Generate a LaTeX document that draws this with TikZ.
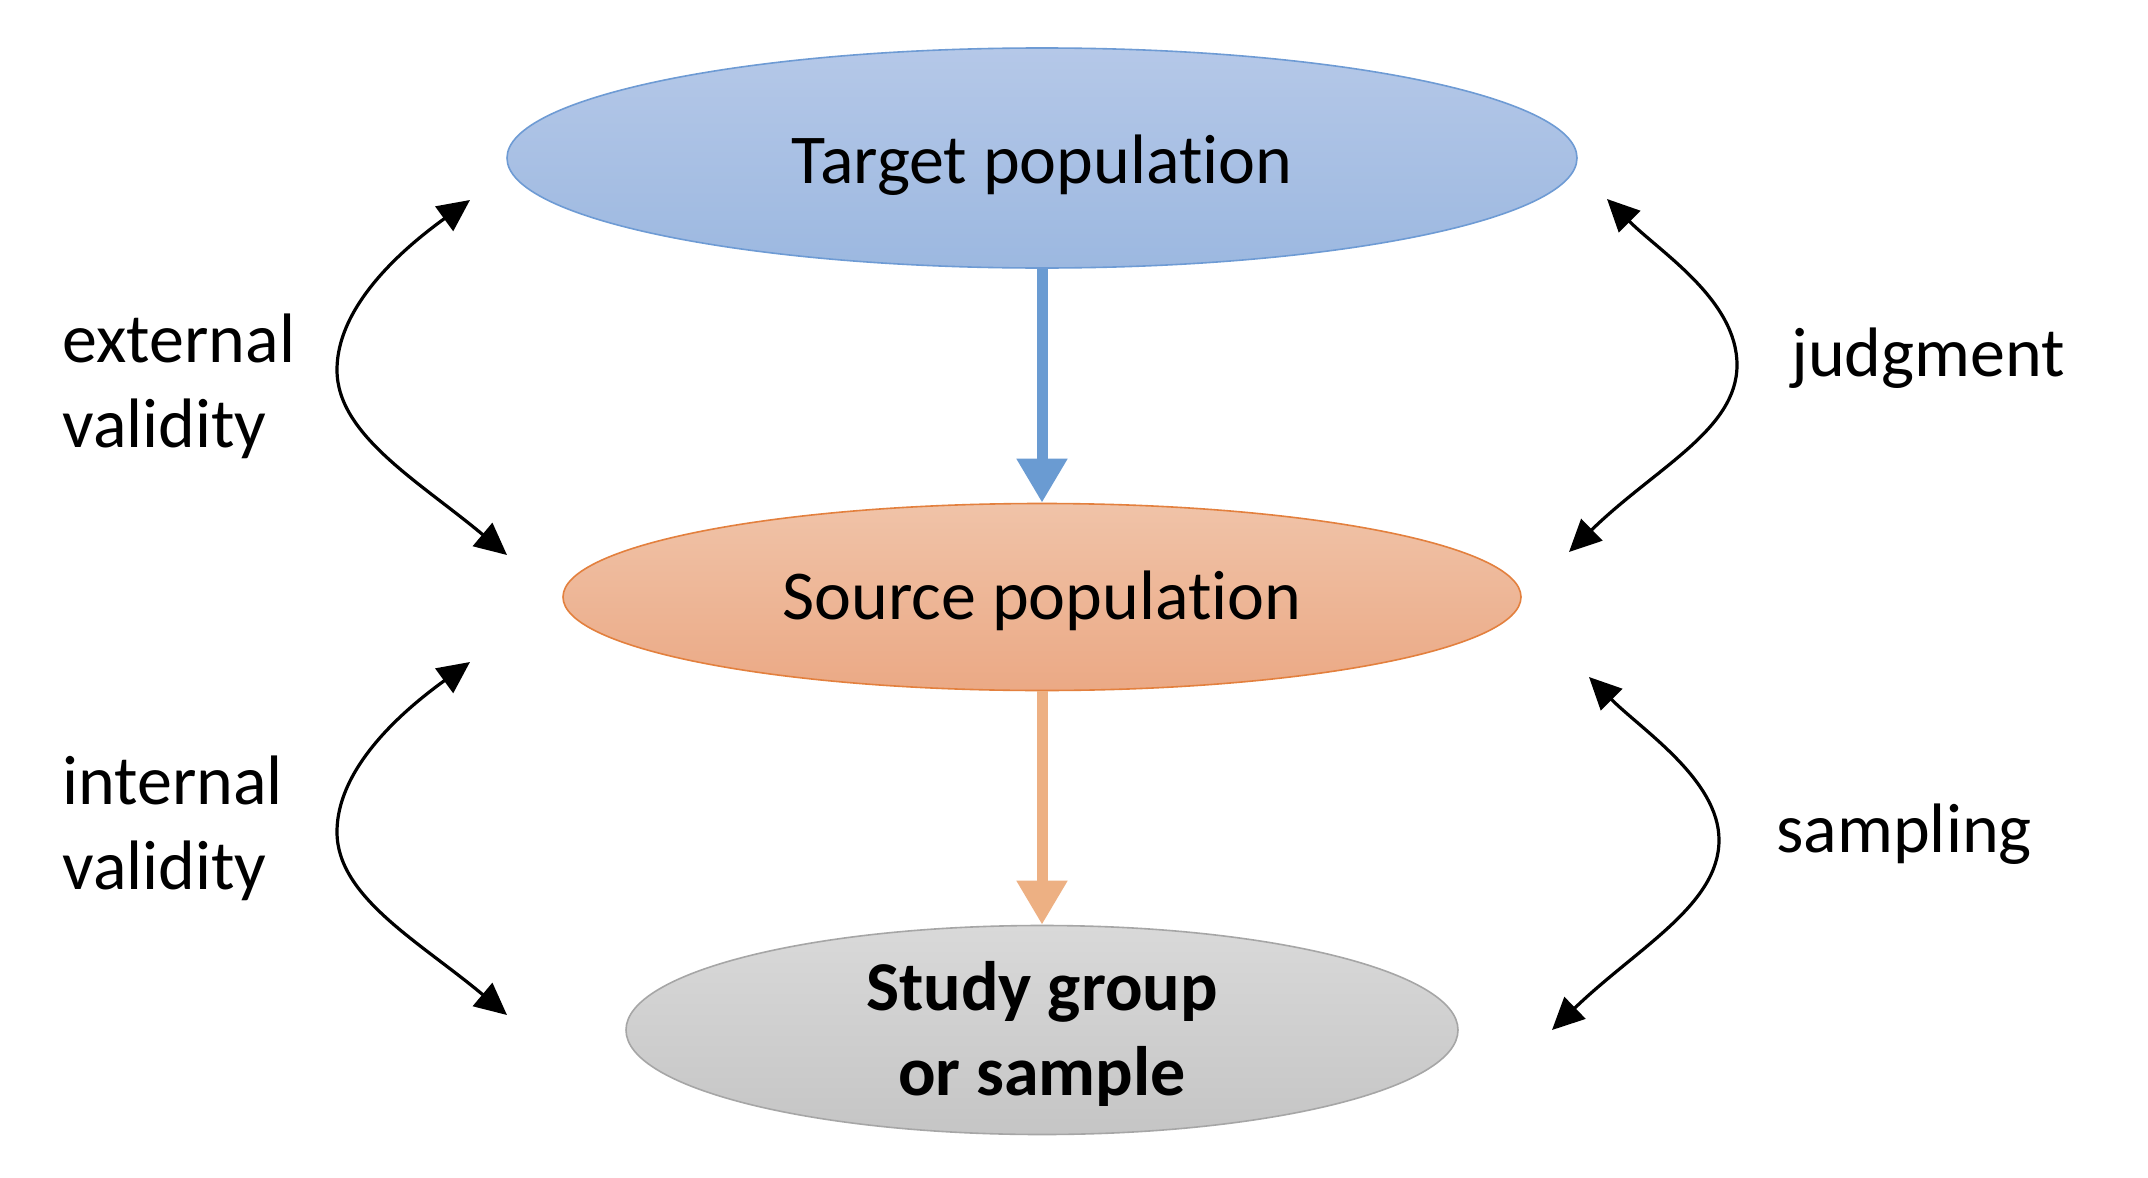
\documentclass[tikz,border=0pt]{standalone}
\usepackage{fontspec}
\setmainfont{Carlito}[RawFeature={-liga;-dlig;-clig}]
\usetikzlibrary{shapes.geometric,arrows.meta}
\definecolor{tgtTop}{HTML}{B5C8E8}
\definecolor{tgtBot}{HTML}{9CB8E0}
\definecolor{tgtLine}{HTML}{6E9BD4}
\definecolor{srcTop}{HTML}{F0C3A8}
\definecolor{srcBot}{HTML}{EBA985}
\definecolor{srcLine}{HTML}{E3803E}
\definecolor{stdTop}{HTML}{D9D9D9}
\definecolor{stdBot}{HTML}{C5C5C5}
\definecolor{stdLine}{HTML}{A6A6A6}
\definecolor{blueArrow}{HTML}{6A9BD2}
\definecolor{orangeArrow}{HTML}{EDB083}
\tikzset{
  ell/.style={ellipse, inner sep=0pt, line width=0.8pt, align=center,
    font=\fontsize{35}{42.5}\selectfont},
  lbl/.style={inner sep=0pt, align=left, font=\fontsize{35}{42.5}\selectfont},
  bigarrow/.style={line width=5.5pt, -{Triangle[length=22pt,width=24pt]}},
  curvedarrow/.style={line width=1.6pt, {Triangle[length=16pt,width=15pt]}-{Triangle[length=16pt,width=15pt]}}
}
\begin{document}
\begin{tikzpicture}[x=0.5pt,y=-0.5pt]
\useasboundingbox (0,0) rectangle (2148,1178);
\fill[white] (0,0) rectangle (2148,1178);

\node[ell, minimum width=535pt, minimum height=110pt, draw=tgtLine,
      top color=tgtTop, bottom color=tgtBot, text height=25pt, text depth=0pt]
  (target) at (1042,158) {Target population};
\node[ell, minimum width=479pt, minimum height=93.5pt, draw=srcLine,
      top color=srcTop, bottom color=srcBot, text height=22pt, text depth=0pt]
  (source) at (1042,597) {Source population};
\node[ell, minimum width=416pt, minimum height=104.5pt, draw=stdLine,
      top color=stdTop, bottom color=stdBot, text height=65pt, text depth=0pt,
      font=\fontsize{35}{42.5}\selectfont\bfseries]
  (study) at (1042,1030) {Study group\\or sample};

\draw[bigarrow, blueArrow] (target.south) -- (source.north);
\draw[bigarrow, orangeArrow] (source.south) -- (study.north);

% curved double arrows
\coordinate (lt1) at (470,200);  \coordinate (lt2) at (507,555);
\coordinate (lb1) at (470,662);  \coordinate (lb2) at (507,1015);
\coordinate (rt1) at (1607,199); \coordinate (rt2) at (1569,552);
\coordinate (rb1) at (1589,677); \coordinate (rb2) at (1552,1030);

\draw[curvedarrow] (lt1) .. controls (415,240) and (337,300) .. (337,370)
                  .. controls (337,435) and (420,482) .. (lt2);
\draw[curvedarrow] (lb1) .. controls (415,702) and (337,762) .. (337,832)
                  .. controls (337,897) and (420,942) .. (lb2);
\draw[curvedarrow] (rt1) .. controls (1660,252) and (1737,300) .. (1737,365)
                  .. controls (1737,430) and (1655,468) .. (rt2);
\draw[curvedarrow] (rb1) .. controls (1642,730) and (1719,780) .. (1719,840)
                  .. controls (1719,905) and (1637,948) .. (rb2);

\node[lbl, anchor=base west] (ext) at (62,447) {external\\validity};
\node[lbl, anchor=base west] (int) at (62,889) {internal\\validity};
\node[lbl, anchor=base west] (judg) at (1791,376) {judgment};
\node[lbl, anchor=base west] (samp) at (1776,852) {sampling};
\end{tikzpicture}
\end{document}
